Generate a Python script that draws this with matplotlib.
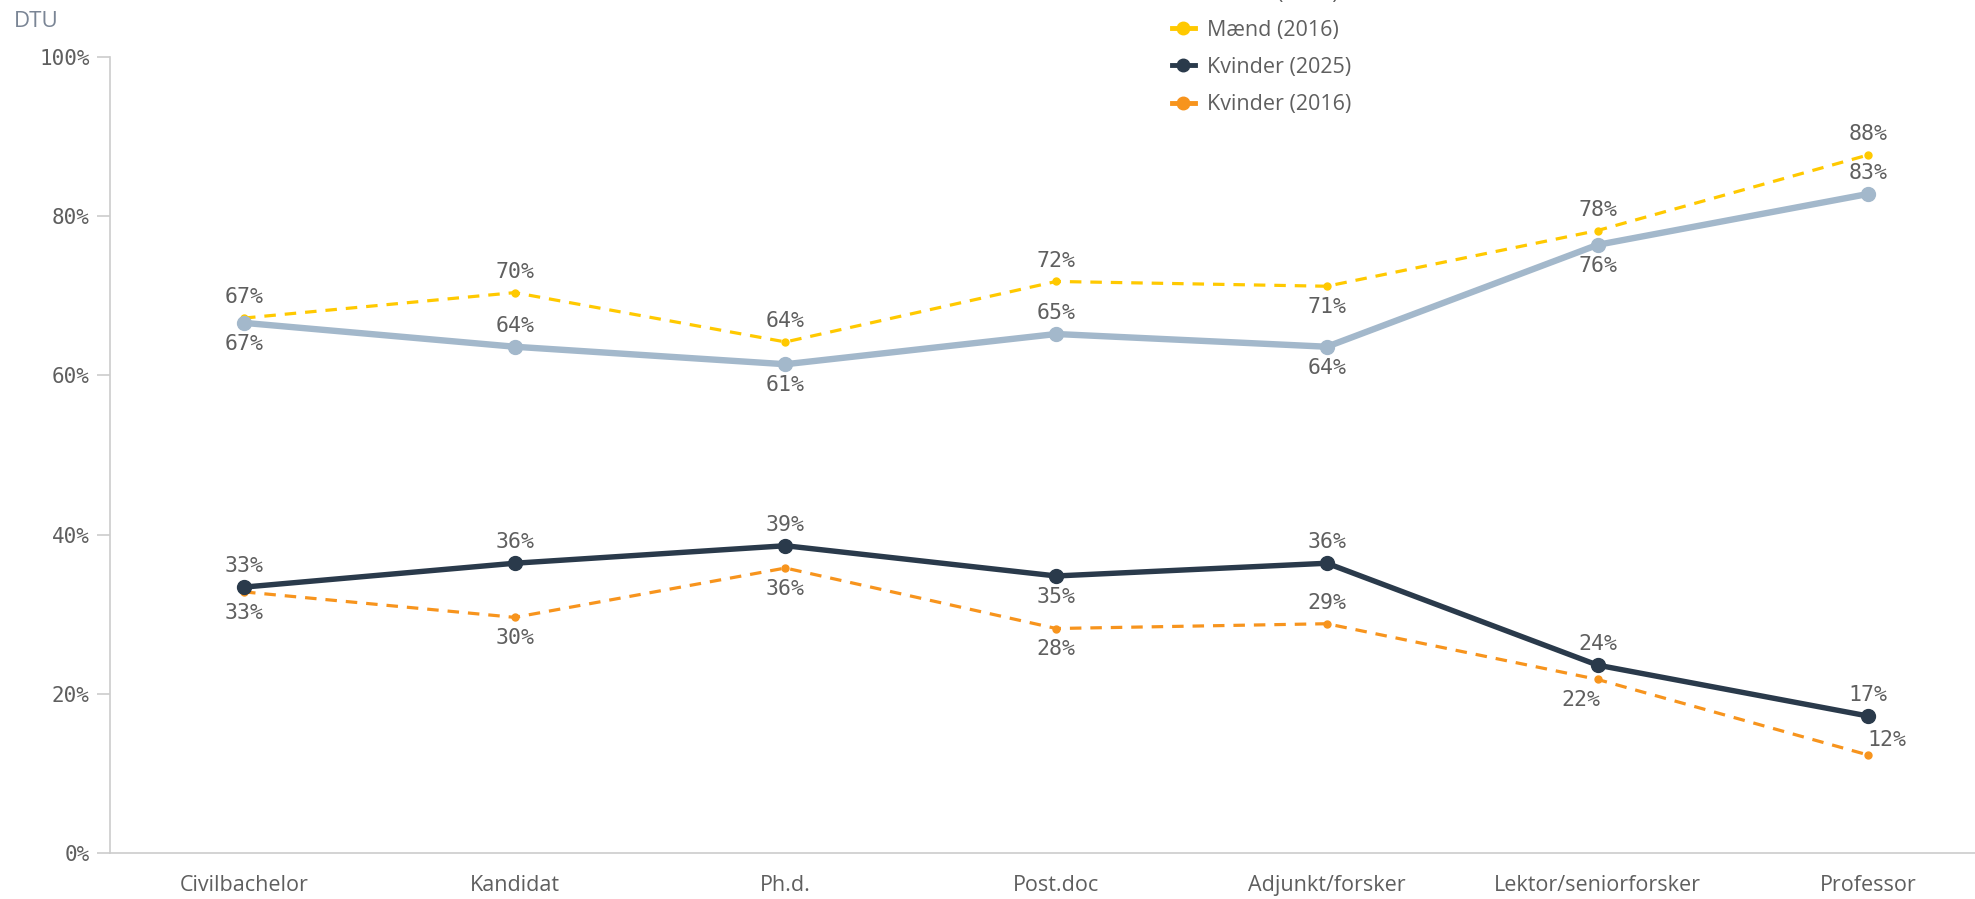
import matplotlib
matplotlib.use("Agg")
import matplotlib.pyplot as plt
from matplotlib.lines import Line2D
from matplotlib.ticker import FuncFormatter

categories = ["Civilbachelor", "Kandidat", "Ph.d.", "Post.doc", "Adjunkt/forsker",
              "Lektor/seniorforsker", "Professor"]
maend_2025 = [66.6, 63.6, 61.4, 65.2, 63.6, 76.4, 82.8]
maend_2016 = [67.2, 70.4, 64.2, 71.8, 71.2, 78.2, 87.7]
kvinder_2025 = [33.4, 36.4, 38.6, 34.8, 36.4, 23.6, 17.2]
kvinder_2016 = [32.8, 29.6, 35.8, 28.2, 28.8, 21.8, 12.3]
series_names = ["Mænd (2025)", "Mænd (2016)", "Kvinder (2025)", "Kvinder (2016)"]
yticks = [0, 20, 40, 60, 80, 100]

# label placement (dx, dy in points) per series per category
off_m25 = [(0, -15), (0, 15), (0, -15), (0, 15), (0, -15), (0, -15), (0, 15)]
off_m16 = [(0, 15), (0, 15), (0, 15), (0, 15), (0, -15), (0, 15), (0, 15)]
off_k25 = [(0, 15), (0, 15), (0, 15), (0, -15), (0, 15), (0, 15), (0, 15)]
off_k16 = [(0, -15), (0, -15), (0, -15), (0, -15), (0, 15), (-12, -15), (13, 11)]

TXT = "#5f5f5f"
MONO = "DejaVu Sans Mono"
SANS = "Open Sans"

fig = plt.figure(figsize=(19.75, 8.99), dpi=100)
ax = fig.add_axes([0.0557, 0.0512, 0.9443, 0.8854])
x = list(range(len(categories)))

styles = [
    (maend_2025, "#a3b8cb", "-", 4.6, 10, off_m25, 2),
    (maend_2016, "#ffc900", (0, (3.6, 2.8)), 2.3, 5, off_m16, 1),
    (kvinder_2025, "#2a3a4b", "-", 3.9, 10, off_k25, 4),
    (kvinder_2016, "#f7941d", (0, (3.6, 2.8)), 2.3, 5, off_k16, 3),
]
handles = []
for (vals, col, ls, lw, ms, offs, z), name in zip(styles, series_names):
    ax.plot(x, vals, color=col, linestyle=ls, linewidth=lw, marker="o",
            markersize=ms, zorder=z, solid_capstyle="round", dash_capstyle="butt")
    for xi, v, (dx, dy) in zip(x, vals, offs):
        ax.annotate(f"{v:.0f}%", (xi, v), xytext=(dx, dy), textcoords="offset points",
                    ha="center", va="center", fontsize=15.5, color=TXT,
                    family=MONO, zorder=6)
    handles.append(Line2D([0], [0], color=col, linewidth=3.5, marker="o", markersize=9))

ax.set_xlim(-0.495, 6.394)
ax.set_ylim(0, 100)
ax.set_yticks(yticks)
ax.yaxis.set_major_formatter(FuncFormatter(lambda v, p: f"{v:.0f}%"))
ax.set_xticks(x)
ax.set_xticklabels(categories, fontsize=15.5, color=TXT, family=SANS)
for lab in ax.get_yticklabels():
    lab.set_family(MONO)
    lab.set_fontsize(15)
    lab.set_color(TXT)
ax.tick_params(axis="y", length=9.5, width=1.2, color="#cccccc", pad=5)
ax.tick_params(axis="x", length=0, pad=16)
for s in ["top", "right"]:
    ax.spines[s].set_visible(False)
for s in ["left", "bottom"]:
    ax.spines[s].set_color("#cccccc")
    ax.spines[s].set_linewidth(1.2)

fig.text(0.007, 0.988, "DTU", fontsize=16, color="#7a8595", family=SANS,
         ha="left", va="top")

leg = fig.legend(handles, series_names, loc="upper left",
                 bbox_to_anchor=(1163 / 1975, 1 + 26 / 899), frameon=False,
                 fontsize=15.5, handlelength=1.1, handletextpad=0.55,
                 labelspacing=0.75, borderaxespad=0)
for t in leg.get_texts():
    t.set_color(TXT)
    t.set_family(SANS)

fig.savefig("out.png", dpi=100)
